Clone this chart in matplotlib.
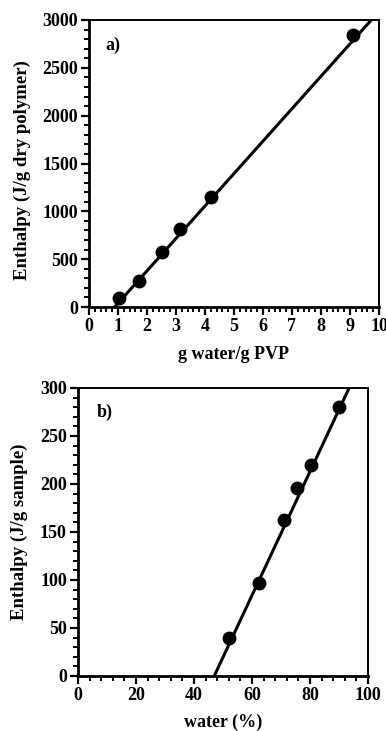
import numpy as np
import matplotlib
matplotlib.use("Agg")
import matplotlib.pyplot as plt
from matplotlib.ticker import MultipleLocator

plt.rcParams['font.family'] = ['Liberation Serif', 'DejaVu Serif']
plt.rcParams['font.weight'] = 'bold'

# panel a) enthalpy per g dry polymer vs g water / g PVP
a_x = [1.05, 1.72, 2.5, 3.15, 4.2, 9.1]
a_y = [90, 270, 570, 820, 1150, 2840]
a_slope, a_icpt = 339.0, -300.0

# panel b) enthalpy per g sample vs water %
b_x = [52, 62.5, 71, 75.5, 80.5, 90]
b_y = [40, 97, 163, 196, 220, 280]
b_slope, b_icpt = 6.45, -303.0

fig = plt.figure(figsize=(3.86, 7.31), dpi=100)
W, H = 386, 731

def style(ax, xmaj, xmin, ymaj, ymin):
    ax.xaxis.set_major_locator(MultipleLocator(xmaj))
    ax.xaxis.set_minor_locator(MultipleLocator(xmin))
    ax.yaxis.set_major_locator(MultipleLocator(ymaj))
    ax.yaxis.set_minor_locator(MultipleLocator(ymin))
    ax.tick_params(which='major', direction='out', length=5.5, width=1.6,
                   labelsize=13, pad=2.5)
    ax.tick_params(which='minor', direction='out', length=3.3, width=1.4)
    for s in ['left', 'bottom']:
        ax.spines[s].set_linewidth(2.0)
    for s in ['top', 'right']:
        ax.spines[s].set_linewidth(1.4)
    for lab in ax.get_xticklabels() + ax.get_yticklabels():
        lab.set_fontweight('bold')

# panel a
ax1 = fig.add_axes([89 / W, 1 - 307 / H, 290 / W, 287 / H])
xl = np.array([0, 10])
ax1.plot(xl, a_slope * xl + a_icpt, color='black', lw=2.2)
ax1.plot(a_x, a_y, 'o', color='black', ms=9)
ax1.set_xlim(0, 10)
ax1.set_ylim(0, 3000)
style(ax1, 1, 0.2, 500, 100)
ax1.set_xlabel('g water/g PVP', fontsize=13, fontweight='bold', va='center')
ax1.set_ylabel('Enthalpy (J/g dry polymer)', fontsize=13.5, fontweight='bold', va='center')
ax1.xaxis.set_label_coords(0.5, -0.167)
ax1.yaxis.set_label_coords(-0.231, 0.477)
ax1.text(0.055, 0.913, 'a)', transform=ax1.transAxes, fontsize=13,
         fontweight='bold', va='center')

# panel b
ax2 = fig.add_axes([78 / W, 1 - 676 / H, 290 / W, 288 / H])
xl = np.array([0, 100])
ax2.plot(xl, b_slope * xl + b_icpt, color='black', lw=2.2)
ax2.plot(b_x, b_y, 'o', color='black', ms=9)
ax2.set_xlim(0, 100)
ax2.set_ylim(0, 300)
style(ax2, 20, 4, 50, 10)
ax2.set_xlabel('water (%)', fontsize=13, fontweight='bold', va='center')
ax2.set_ylabel('Enthalpy (J/g sample)', fontsize=13.5, fontweight='bold', va='center')
ax2.xaxis.set_label_coords(0.5, -0.16)
ax2.yaxis.set_label_coords(-0.203, 0.5)
ax2.text(0.065, 0.917, 'b)', transform=ax2.transAxes, fontsize=13,
         fontweight='bold', va='center')

fig.savefig('out.png', dpi=100)
